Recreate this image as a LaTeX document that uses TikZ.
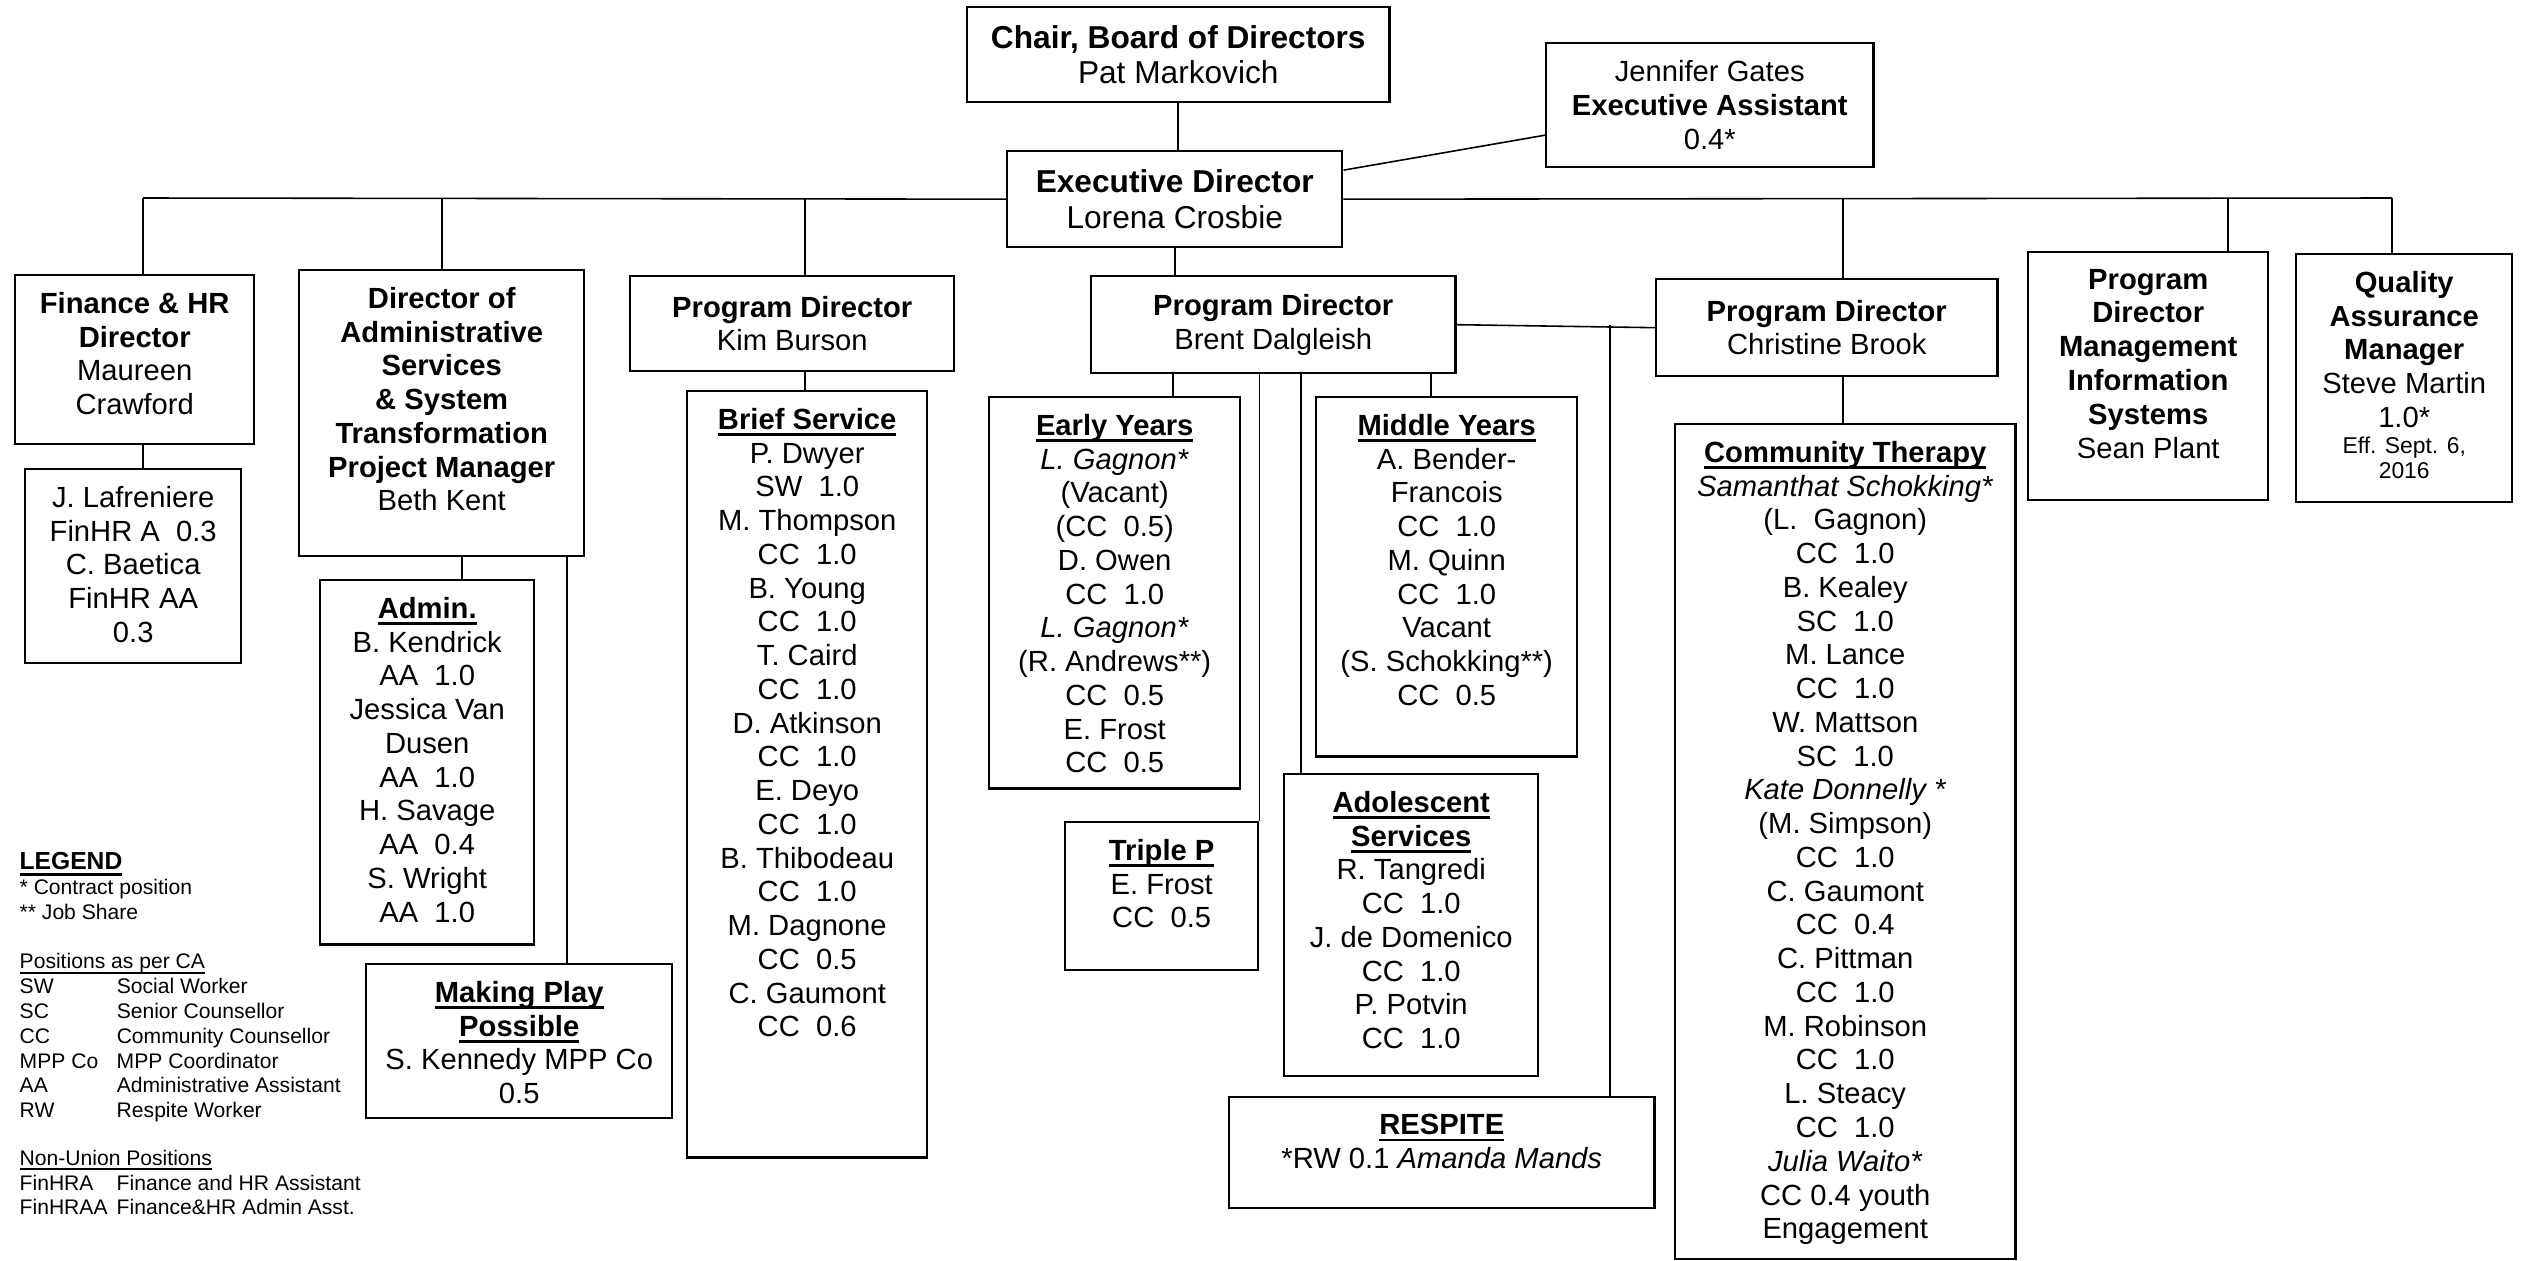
\documentclass[tikz,border=0pt]{standalone}
\usepackage{fontspec}
\setmainfont{Liberation Sans}
\usepackage{tikz}
\usetikzlibrary{positioning}
\tikzset{caja/.style={draw, line width=0.65pt, inner sep=0pt, anchor=north west}}
\tikzset{linea/.style={line width=0.45pt}}
\newsavebox{\ulbox}
\newcommand{\ulx}[1]{\leavevmode\sbox{\ulbox}{#1}\rlap{\vrule width\wd\ulbox height -0.14em depth 0.23em}\usebox{\ulbox}}
\newcommand{\hd}[1]{\ulx{\bfseries #1}}
\newcommand{\topcell}[3]{\parbox[t][#2][t]{#1}{\centering\vspace*{0.17cm}#3\par}}
\newcommand{\midcell}[3]{\parbox[t][#2][c]{#1}{\centering #3\par}}

\begin{document}
\begin{tikzpicture}[
                x = 0.01cm, y = -0.01cm,
                every node/.style={font=\fontsize{8.3}{9.6}\selectfont}
            ]
                \useasboundingbox (0,0) rectangle (2524,1260);

                % top
                \node[caja] (chair) at (966,6) {\midcell{4.22cm}{0.95cm}{\fontsize{9}{10.1}\selectfont\textbf{Chair, Board of Directors}\\Pat Markovich}};
                \node[caja] (jen) at (1545,42) {\midcell{3.27cm}{1.24cm}{Jennifer Gates\\\textbf{Executive Assistant}\\0.4*}};
                \node[caja] (exec) at (1006,150) {\midcell{3.35cm}{0.96cm}{\fontsize{9}{10.1}\selectfont\textbf{Executive Director}\\Lorena Crosbie}};

                % directors
                \node[caja] (fin) at (14,274) {\topcell{2.39cm}{1.69cm}{{\bfseries Finance \& HR\\Director\\}Maureen\\Crawford}};
                \node[caja] (adsys) at (298,269) {\topcell{2.85cm}{2.86cm}{{\bfseries Director of\\Administrative\\Services\\\& System\\Transformation\\Project Manager\\}Beth Kent}};
                \node[caja] (kim) at (629,275) {\midcell{3.24cm}{0.95cm}{\textbf{Program Director}\\Kim Burson}};
                \node[caja] (brent) at (1090,275) {\midcell{3.64cm}{0.97cm}{\textbf{Program Director}\\Brent Dalgleish}};
                \node[caja] (chris) at (1655,278) {\midcell{3.41cm}{0.97cm}{\textbf{Program Director}\\Christine Brook}};
                \node[caja] (mis) at (2027,251) {\topcell{2.40cm}{2.48cm}{{\bfseries Program\\Director\\Management\\Information\\Systems\\}Sean Plant}};
                \node[caja] (qa) at (2295,253) {\topcell{2.16cm}{2.48cm}{{\bfseries Quality\\Assurance\\Manager\\}Steve Martin\\1.0*\\{\fontsize{6.5}{7.3}\selectfont Eff. Sept. 6,\\2016\par}}};

                % teams
                \node[caja] (jl) at (24,468) {\topcell{2.16cm}{1.94cm}{J. Lafreniere\\FinHR A~~0.3\\C. Baetica\\FinHR AA\\0.3}};
                \node[caja] (admin) at (319,579) {\topcell{2.14cm}{3.64cm}{\hd{Admin.}\\B. Kendrick\\AA~~1.0\\Jessica Van\\Dusen\\AA~~1.0\\H. Savage\\AA~~0.4\\S. Wright\\AA~~1.0}};
                \node[caja] (mpp) at (365,963) {\topcell{3.06cm}{1.54cm}{\hd{Making Play}\\\hd{Possible}\\S. Kennedy MPP Co\\0.5}};
                \node[caja] (brief) at (686,390) {\topcell{2.40cm}{7.66cm}{\hd{Brief Service}\\P. Dwyer\\SW~~1.0\\M. Thompson\\CC~~1.0\\B. Young\\CC~~1.0\\T. Caird\\CC~~1.0\\D. Atkinson\\CC~~1.0\\E. Deyo\\CC~~1.0\\B. Thibodeau\\CC~~1.0\\M. Dagnone\\CC~~0.5\\C. Gaumont\\CC~~0.6}};
                \node[caja] (ey) at (988,396) {\topcell{2.51cm}{3.91cm}{\hd{Early Years}\\\textit{L. Gagnon*}\\(Vacant)\\(CC~~0.5)\\D. Owen\\CC~~1.0\\\textit{L. Gagnon*}\\(R. Andrews**)\\CC~~0.5\\E. Frost\\CC~~0.5}};
                \node[caja] (tp) at (1064,821) {\topcell{1.93cm}{1.48cm}{\hd{Triple P}\\E. Frost\\CC~~0.5}};
                \node[caja] (my) at (1315,396) {\topcell{2.61cm}{3.59cm}{\hd{Middle Years}\\A. Bender-\\Francois\\CC~~1.0\\M. Quinn\\CC~~1.0\\Vacant\\(S. Schokking**)\\CC~~0.5}};
                \node[caja] (ado) at (1283,773) {\topcell{2.54cm}{3.02cm}{\hd{Adolescent}\\\hd{Services}\\R. Tangredi\\CC~~1.0\\J. de Domenico\\CC~~1.0\\P. Potvin\\CC~~1.0}};
                \node[caja] (resp) at (1228,1096) {\topcell{4.25cm}{1.11cm}{\hd{RESPITE}\\{*}RW 0.1 \textit{Amanda Mands}}};
                \node[caja] (ct) at (1674,423) {\topcell{3.40cm}{8.34cm}{\hd{Community Therapy}\\\textit{Samanthat Schokking*}\\(L.~~Gagnon)\\CC~~1.0\\B. Kealey\\SC~~1.0\\M. Lance\\CC~~1.0\\W. Mattson\\SC~~1.0\\\textit{Kate Donnelly *}\\(M. Simpson)\\CC~~1.0\\C. Gaumont\\CC~~0.4\\C. Pittman\\CC~~1.0\\M. Robinson\\CC~~1.0\\L. Steacy\\CC~~1.0\\\textit{Julia Waito*}\\CC 0.4 youth\\Engagement}};

                % legend
                \node[anchor=north west, align=left, inner sep=0pt, font=\fontsize{6}{7.05}\selectfont] (legend) at (19,852) {{\fontsize{7}{8}\selectfont\ulx{\bfseries LEGEND}}\\{*} Contract position\\{**} Job Share\\[7pt]\ulx{Positions as per CA}\\\makebox[0.97cm][l]{SW}Social Worker\\\makebox[0.97cm][l]{SC}Senior Counsellor\\\makebox[0.97cm][l]{CC}Community Counsellor\\\makebox[0.97cm][l]{MPP Co}MPP Coordinator\\\makebox[0.97cm][l]{AA}Administrative Assistant\\\makebox[0.97cm][l]{RW}Respite Worker\\[6.5pt]\ulx{Non-Union Positions}\\\makebox[0.97cm][l]{FinHRA}Finance and HR Assistant\\\makebox[0.97cm][l]{FinHRAA}Finance\&HR Admin Asst.};

                % columns of the connectors
                \coordinate (cfin) at (143,198);
                \coordinate (cqa) at (2392,198);
                \coordinate (cadm) at (462,0);
                \coordinate (cmpp) at (567,0);
                \coordinate (ckim) at (805,0);
                \coordinate (cey) at (1173,0);
                \coordinate (cado) at (1301,0);
                \coordinate (cmy) at (1431,0);
                \coordinate (cres) at (1610,0);
                \coordinate (cct) at (1843,0);
                \coordinate (cmis) at (2228,0);

                \draw[linea] (chair.south) -- (chair.south |- exec.north);
                \draw[linea] ([yshift=0.29cm]exec.east) -- ([yshift=-0.30cm]jen.west);
                \draw[linea] (cfin) -- (exec.west);
                \draw[linea] (exec.east) -- (cqa);
                \draw[linea] (cfin) -- (cfin |- fin.north);
                \draw[linea] (adsys.north |- cfin) -- (adsys.north);
                \draw[linea] (ckim |- cfin) -- (ckim |- kim.north);
                \draw[linea] (cct |- cfin) -- (cct |- chris.north);
                \draw[linea] (cmis |- cfin) -- (cmis |- mis.north);
                \draw[linea] (cqa) -- (cqa |- qa.north);
                \draw[linea] (exec.south) -- (exec.south |- brent.north);

                \draw[linea] (cfin |- fin.south) -- (cfin |- jl.north);
                \draw[linea] (cadm |- adsys.south) -- (cadm |- admin.north);
                \draw[linea] (cmpp |- adsys.south) -- (cmpp |- mpp.north);
                \draw[linea] (ckim |- kim.south) -- (ckim |- brief.north);
                \draw[linea] (cey |- brent.south) -- (cey |- ey.north);
                \draw[linea] (tp.north east |- brent.south) -- (tp.north east);
                \draw[linea] (cado |- brent.south) -- (cado |- ado.north);
                \draw[linea] (cmy |- brent.south) -- (cmy |- my.north);
                \draw[linea] (brent.east) -- (chris.west);
                \draw[linea] (cres |- brent.east) -- (cres |- resp.north);
                \draw[linea] (cct |- chris.south) -- (cct |- ct.north);
            \end{tikzpicture}
\end{document}
